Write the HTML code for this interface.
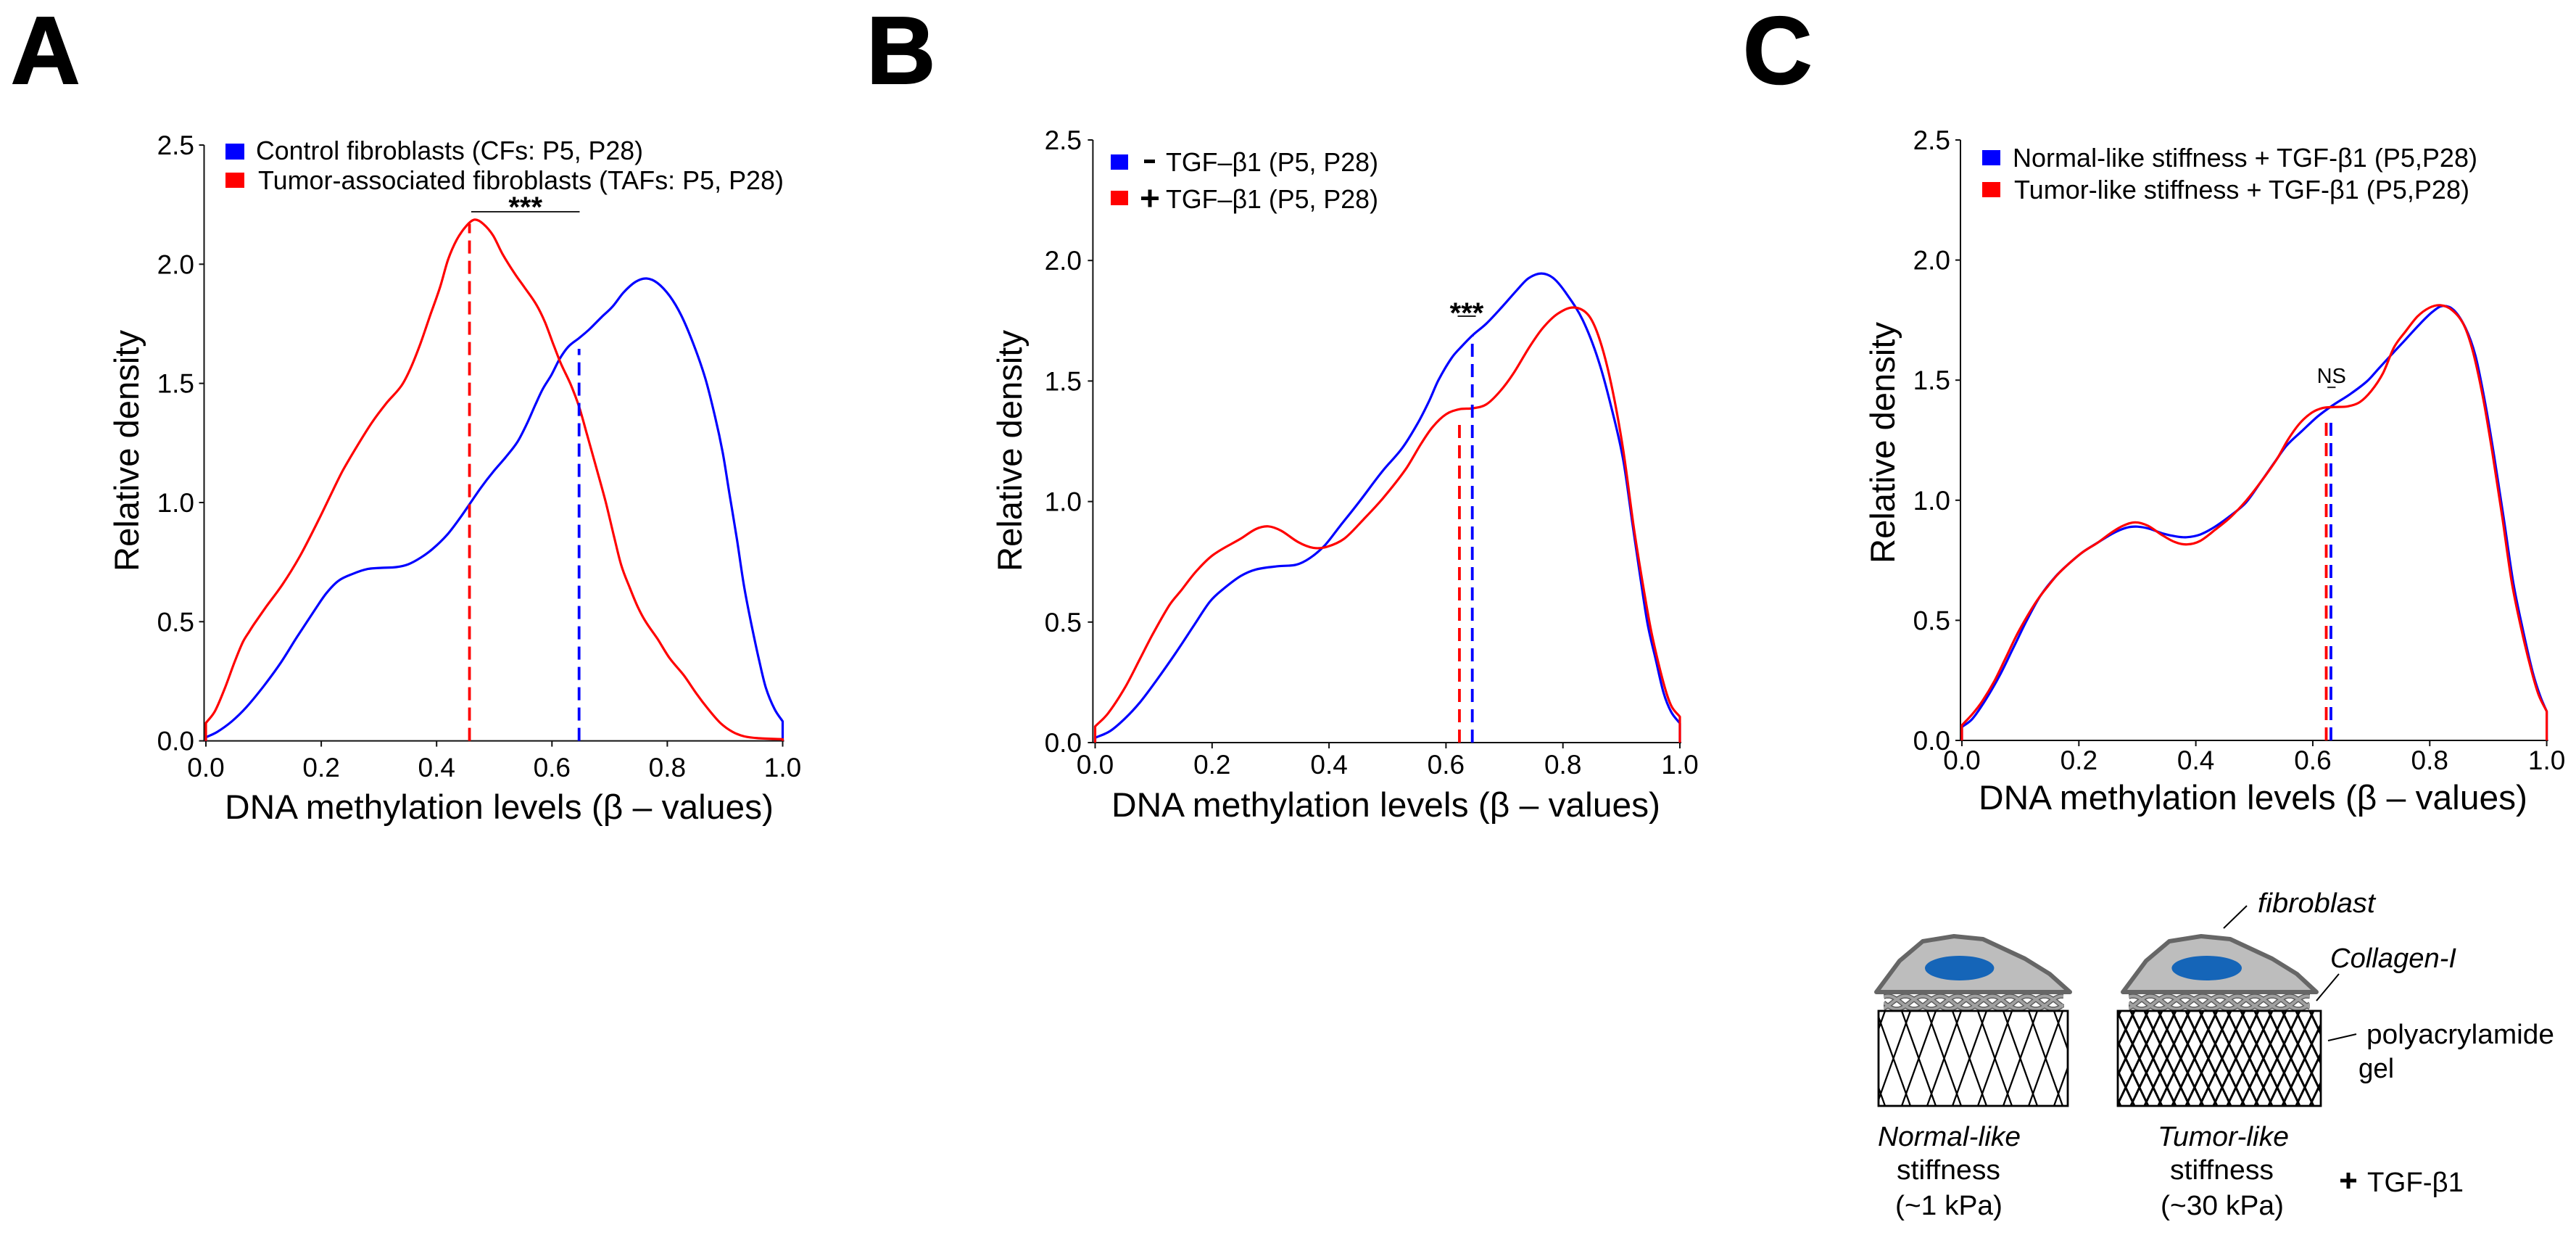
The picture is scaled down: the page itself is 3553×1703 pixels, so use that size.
<!DOCTYPE html>
<html lang="en">
<head>
<meta charset="utf-8">
<title>DNA methylation density plots</title>
<style>
html,body{margin:0;padding:0;background:#fff;}
svg{display:block;}
text{font-family:"Liberation Sans",Arial,sans-serif;fill:#000;}
</style>
</head>
<body>
<svg id="figure" xmlns="http://www.w3.org/2000/svg" width="3553" height="1703" viewBox="0 0 3553 1703">
  <rect x="0" y="0" width="3553" height="1703" fill="#fff"/>

  <text x="15" y="115" font-size="132" font-weight="700" stroke="#000" stroke-width="2">A</text>
  <text x="1195" y="115" font-size="132" font-weight="700" stroke="#000" stroke-width="2">B</text>
  <text x="2404" y="115" font-size="132" font-weight="700" stroke="#000" stroke-width="2">C</text>

  <g id="chart-a"></g>
  <g id="chart-b"></g>
  <g id="chart-c"></g>

  <!-- Legends -->
  <g>
    <rect x="311" y="198" width="26" height="22" fill="#0000ff"/>
    <text x="353" y="220" font-size="36" textLength="534" lengthAdjust="spacingAndGlyphs">Control fibroblasts (CFs: P5, P28)</text>
    <rect x="311" y="238" width="26" height="21" fill="#ff0000"/>
    <text x="356" y="261" font-size="36" textLength="725" lengthAdjust="spacingAndGlyphs">Tumor-associated fibroblasts (TAFs: P5, P28)</text>
  </g>
  <g>
    <rect x="1532" y="213" width="24" height="21" fill="#0000ff"/>
    <rect x="1578" y="220" width="15" height="5" fill="#000"/>
    <text x="1608" y="236" font-size="36" textLength="293" lengthAdjust="spacingAndGlyphs">TGF–β1 (P5, P28)</text>
    <rect x="1532" y="263" width="24" height="20" fill="#ff0000"/>
    <path d="M1574 273.5H1598M1586 261.5V285.5" stroke="#000" stroke-width="5" fill="none"/>
    <text x="1608" y="287" font-size="36" textLength="293" lengthAdjust="spacingAndGlyphs">TGF–β1 (P5, P28)</text>
  </g>
  <g>
    <rect x="2734" y="207" width="25" height="21" fill="#0000ff"/>
    <text x="2776" y="230" font-size="36" textLength="641" lengthAdjust="spacingAndGlyphs">Normal-like stiffness + TGF-β1 (P5,P28)</text>
    <rect x="2734" y="251" width="25" height="21" fill="#ff0000"/>
    <text x="2778" y="274" font-size="36" textLength="628" lengthAdjust="spacingAndGlyphs">Tumor-like stiffness + TGF-β1 (P5,P28)</text>
  </g>

  <!-- Schematic -->
  <defs>
    <clipPath id="clip-gel-soft"><rect x="2591" y="1394" width="261" height="131"/></clipPath>
    <clipPath id="clip-gel-stiff"><rect x="2921" y="1394" width="280" height="131"/></clipPath>
    <clipPath id="clip-col-1"><rect x="2598" y="1371" width="249" height="23"/></clipPath>
    <clipPath id="clip-col-2"><rect x="2936" y="1371" width="250" height="23"/></clipPath>
  </defs>
  <g>
    <g clip-path="url(#clip-col-1)">
      <path id="braid-1a" fill="none" stroke="#585858" stroke-width="6.5"/>
      <path id="braid-1b" fill="none" stroke="#a0a0a0" stroke-width="3.8"/>
    </g>
    <g clip-path="url(#clip-col-2)">
      <path id="braid-2a" fill="none" stroke="#585858" stroke-width="6.5"/>
      <path id="braid-2b" fill="none" stroke="#a0a0a0" stroke-width="3.8"/>
    </g>
    <path d="M2588 1368 L2620 1325 L2652 1298 L2695 1291 L2735 1295 L2793 1322 L2827 1343 L2855 1368 Z" fill="#bdbdbd" stroke="#666" stroke-width="6" stroke-linejoin="round"/>
    <ellipse cx="2702.7" cy="1335" rx="47.7" ry="17" fill="#1565b8"/>
    <path d="M2928 1368 L2960 1325 L2992 1298 L3036 1291 L3076 1295 L3134 1322 L3168 1343 L3195 1368 Z" fill="#bdbdbd" stroke="#666" stroke-width="6" stroke-linejoin="round"/>
    <ellipse cx="3043.7" cy="1335" rx="48.3" ry="17" fill="#1565b8"/>

    <path id="lattice-soft" clip-path="url(#clip-gel-soft)" fill="none" stroke="#000" stroke-width="2.3"/>
    <rect x="2591" y="1394" width="261" height="131" fill="none" stroke="#000" stroke-width="2.8"/>
    <path id="lattice-stiff" clip-path="url(#clip-gel-stiff)" fill="none" stroke="#000" stroke-width="3"/>
    <rect x="2921" y="1394" width="280" height="131" fill="none" stroke="#000" stroke-width="2.8"/>

    <path d="M3099 1249L3067 1280" stroke="#000" stroke-width="2" fill="none"/>
    <path d="M3226 1343L3195 1380" stroke="#000" stroke-width="2" fill="none"/>
    <path d="M3250 1426L3211 1435" stroke="#000" stroke-width="2" fill="none"/>

    <text x="3114" y="1258" font-size="38" font-style="italic" textLength="162" lengthAdjust="spacingAndGlyphs">fibroblast</text>
    <text x="3214" y="1334" font-size="38" font-style="italic" textLength="174" lengthAdjust="spacingAndGlyphs">Collagen-I</text>
    <text x="3264" y="1439" font-size="38" textLength="259" lengthAdjust="spacingAndGlyphs">polyacrylamide</text>
    <text x="3253" y="1486" font-size="38" textLength="49" lengthAdjust="spacingAndGlyphs">gel</text>

    <text x="2590" y="1580" font-size="38" font-style="italic" textLength="197" lengthAdjust="spacingAndGlyphs">Normal-like</text>
    <text x="2616" y="1626" font-size="38" textLength="143" lengthAdjust="spacingAndGlyphs">stiffness</text>
    <text x="2614" y="1675" font-size="38" textLength="148" lengthAdjust="spacingAndGlyphs">(~1 kPa)</text>
    <text x="2976" y="1580" font-size="38" font-style="italic" textLength="181" lengthAdjust="spacingAndGlyphs">Tumor-like</text>
    <text x="2993" y="1626" font-size="38" textLength="143" lengthAdjust="spacingAndGlyphs">stiffness</text>
    <text x="2980" y="1675" font-size="38" textLength="170" lengthAdjust="spacingAndGlyphs">(~30 kPa)</text>
    <path d="M3228 1628H3250M3239 1617V1639" stroke="#000" stroke-width="5" fill="none"/>
    <text x="3265" y="1643" font-size="38" textLength="133" lengthAdjust="spacingAndGlyphs">TGF-β1</text>
  </g>
</svg>

<script>
// ---- Tick values ----
var xTickValues = [0, 0.2, 0.4, 0.6, 0.8, 1.0];
var yTickValues = [0, 0.5, 1.0, 1.5, 2.0, 2.5];

// ---- Panel A ----
var betaBlueA = [0,0.02,0.045,0.07,0.1,0.129,0.158,0.192,0.209,0.23,0.255,0.28,0.305,0.33,0.351,0.372,0.393,0.418,0.439,0.458,0.477,0.498,0.519,0.54,0.556,0.571,0.584,0.599,0.613,0.628,0.647,0.665,0.686,0.705,0.724,0.745,0.764,0.783,0.804,0.824,0.845,0.866,0.883,0.896,0.908,0.921,0.933,0.946,0.959,0.971,0.986,1];
var densityBlueA = [0.015,0.038,0.082,0.141,0.229,0.325,0.436,0.561,0.62,0.672,0.701,0.721,0.726,0.729,0.741,0.768,0.805,0.864,0.93,0.996,1.063,1.129,1.188,1.254,1.328,1.409,1.476,1.535,1.601,1.653,1.69,1.727,1.778,1.822,1.881,1.926,1.94,1.921,1.867,1.786,1.667,1.52,1.358,1.21,1.033,0.841,0.65,0.487,0.34,0.222,0.133,0.082];
var betaRedA = [0,0.016,0.033,0.05,0.064,0.075,0.083,0.104,0.133,0.163,0.196,0.221,0.238,0.263,0.288,0.313,0.339,0.355,0.372,0.389,0.406,0.42,0.435,0.452,0.466,0.481,0.498,0.514,0.535,0.552,0.573,0.588,0.603,0.615,0.632,0.647,0.661,0.678,0.693,0.707,0.72,0.735,0.749,0.762,0.783,0.804,0.829,0.85,0.871,0.892,0.913,0.934,0.959,1];
var densityRedA = [0.075,0.126,0.222,0.333,0.414,0.458,0.488,0.561,0.657,0.775,0.93,1.055,1.137,1.24,1.336,1.417,1.49,1.564,1.667,1.786,1.904,2.02,2.103,2.162,2.187,2.169,2.12,2.044,1.962,1.904,1.83,1.756,1.66,1.586,1.498,1.402,1.284,1.137,1.004,0.864,0.738,0.642,0.561,0.502,0.428,0.347,0.274,0.2,0.133,0.075,0.038,0.0185,0.011,0.007];
var medianBlueA = 0.647;
var medianTopBlueA = 1.645;
var medianRedA = 0.457;
var medianTopRedA = 2.17;
var sigSpanA = [0.46, 0.648];
var sigLevelA = 2.22;

// ---- Panel B ----
var betaBlueB = [0,0.025,0.051,0.077,0.104,0.137,0.17,0.196,0.216,0.249,0.275,0.314,0.344,0.367,0.393,0.419,0.452,0.492,0.525,0.551,0.571,0.587,0.61,0.627,0.646,0.669,0.695,0.722,0.741,0.763,0.784,0.807,0.834,0.86,0.883,0.903,0.919,0.932,0.945,0.959,0.972,0.985,1];
var densityBlueB = [0.02,0.047,0.1,0.168,0.255,0.369,0.49,0.584,0.631,0.691,0.718,0.732,0.738,0.765,0.819,0.899,1.0,1.128,1.221,1.322,1.416,1.503,1.597,1.644,1.691,1.738,1.805,1.879,1.926,1.946,1.926,1.859,1.752,1.591,1.389,1.174,0.906,0.691,0.49,0.342,0.208,0.128,0.08];
var betaRedB = [0,0.022,0.051,0.077,0.097,0.127,0.147,0.173,0.202,0.249,0.275,0.296,0.318,0.347,0.373,0.396,0.426,0.459,0.492,0.531,0.558,0.577,0.6,0.623,0.646,0.669,0.692,0.715,0.742,0.765,0.791,0.819,0.844,0.863,0.883,0.903,0.922,0.939,0.952,0.972,0.985,1];
var densityRedB = [0.067,0.121,0.228,0.349,0.443,0.57,0.631,0.711,0.779,0.846,0.886,0.897,0.879,0.832,0.808,0.812,0.846,0.926,1.013,1.134,1.242,1.309,1.362,1.383,1.387,1.403,1.456,1.53,1.638,1.718,1.779,1.805,1.772,1.671,1.483,1.215,0.879,0.624,0.45,0.248,0.154,0.107];
var medianBlueB = 0.645;
var medianTopBlueB = 1.69;
var medianRedB = 0.623;
var medianTopRedB = 1.342;
var sigSpanB = [0.62, 0.651];
var sigLevelB = 1.769;

// ---- Panel C ----
var betaBlueC = [0,0.018,0.041,0.065,0.088,0.111,0.134,0.16,0.183,0.206,0.232,0.259,0.282,0.3,0.321,0.344,0.367,0.384,0.407,0.433,0.46,0.486,0.512,0.535,0.555,0.581,0.608,0.634,0.664,0.693,0.713,0.736,0.759,0.782,0.805,0.822,0.841,0.861,0.878,0.894,0.91,0.927,0.943,0.96,0.976,0.989,1];
var densityBlueC = [0.056,0.09,0.171,0.272,0.386,0.5,0.601,0.682,0.736,0.783,0.823,0.863,0.886,0.89,0.881,0.861,0.849,0.846,0.857,0.89,0.937,0.991,1.079,1.159,1.227,1.287,1.348,1.395,1.442,1.496,1.549,1.61,1.67,1.731,1.785,1.809,1.792,1.718,1.603,1.415,1.186,0.917,0.655,0.453,0.285,0.184,0.121];
var betaRedC = [0,0.018,0.035,0.055,0.074,0.094,0.111,0.13,0.147,0.163,0.183,0.206,0.232,0.255,0.275,0.296,0.318,0.341,0.364,0.385,0.407,0.433,0.46,0.486,0.512,0.539,0.558,0.578,0.598,0.617,0.637,0.66,0.68,0.7,0.72,0.739,0.759,0.779,0.799,0.818,0.838,0.858,0.874,0.891,0.907,0.924,0.94,0.957,0.973,0.986,1];
var densityRedC = [0.063,0.11,0.164,0.245,0.339,0.44,0.514,0.588,0.642,0.689,0.736,0.783,0.823,0.864,0.893,0.908,0.894,0.857,0.826,0.816,0.83,0.877,0.931,0.998,1.079,1.173,1.254,1.321,1.364,1.384,1.388,1.391,1.408,1.455,1.529,1.637,1.704,1.765,1.801,1.812,1.792,1.731,1.617,1.428,1.2,0.931,0.662,0.46,0.299,0.191,0.121];
var medianBlueC = 0.631;
var medianTopBlueC = 1.35;
var medianRedC = 0.623;
var medianTopRedC = 1.35;
var sigSpanC = [0.625, 0.639];
var sigLevelC = 1.47;

var SVGNS = 'http://www.w3.org/2000/svg';

function make(parent, tag, attrs, txt) {
  var el = document.createElementNS(SVGNS, tag);
  for (var k in attrs) { el.setAttribute(k, attrs[k]); }
  if (txt !== undefined) { el.textContent = txt; }
  parent.appendChild(el);
  return el;
}

function curvePath(xs, ys, sx, sy) {
  var px = xs.map(sx), py = ys.map(sy);
  var d = 'M' + sx(xs[0]).toFixed(1) + ' ' + sy(0).toFixed(1) + 'L' + px[0].toFixed(1) + ' ' + py[0].toFixed(1);
  for (var i = 0; i < px.length - 1; i++) {
    var a = Math.max(i - 1, 0), b = Math.min(i + 2, px.length - 1);
    var h = px[i + 1] - px[i];
    var m0 = (py[i + 1] - py[a]) / (px[i + 1] - px[a]);
    var m1 = (py[b] - py[i]) / (px[b] - px[i]);
    d += 'C' + (px[i] + h / 3).toFixed(1) + ' ' + (py[i] + m0 * h / 3).toFixed(1) + ' ' +
         (px[i + 1] - h / 3).toFixed(1) + ' ' + (py[i + 1] - m1 * h / 3).toFixed(1) + ' ' +
         px[i + 1].toFixed(1) + ' ' + py[i + 1].toFixed(1);
  }
  d += 'L' + sx(xs[xs.length - 1]).toFixed(1) + ' ' + sy(0).toFixed(1);
  return d;
}

function drawPanel(p) {
  var g = document.getElementById(p.id);
  var sx = function (v) { return p.x0 + v * (p.x1 - p.x0); };
  var sy = function (v) { return p.y0 - (v / 2.5) * (p.y0 - p.yTop); };

  var yAxis = make(g, 'line', { x1: p.axisX, x2: p.axisX, y1: sy(2.5), y2: sy(0) + 1, stroke: '#111', 'stroke-width': 2 });
  
  
  var xAxis = make(g, 'line', { x1: p.axisX, x2: sx(1) + 2, y1: sy(0), y2: sy(0), stroke: '#111', 'stroke-width': 2 });
  
  

  xTickValues.forEach(function (v) {
    var t = make(g, 'line', { x1: sx(v), x2: sx(v), y1: sy(0), y2: sy(0) + 8, stroke: '#111', 'stroke-width': 2 });
    
    
    var l = make(g, 'text', { x: sx(v), y: p.xLabelY, 'font-size': 37, 'text-anchor': 'middle' }, v.toFixed(1));
    
    
  });
  yTickValues.forEach(function (v) {
    var t = make(g, 'line', { x1: p.axisX - 7, x2: p.axisX, y1: sy(v), y2: sy(v), stroke: '#111', 'stroke-width': 2 });
    
    
    var l = make(g, 'text', { x: p.yLabelX, y: sy(v) + 13, 'font-size': 37, 'text-anchor': 'end' }, v.toFixed(1));
    
    
  });

  var xTitle = make(g, 'text', { x: p.xTitleX, y: p.xTitleY, 'font-size': 47, textLength: 757, lengthAdjust: 'spacingAndGlyphs' }, 'DNA methylation levels (β – values)');
  
  
  var yTitle = make(g, 'text', { transform: 'translate(' + p.yTitleX + ' ' + p.yTitleBottom + ') rotate(-90)', x: 0, y: 0, 'font-size': 47, textLength: 333, lengthAdjust: 'spacingAndGlyphs' }, 'Relative density');
  
  

  var blue = make(g, 'path', { d: curvePath(p.bx, p.by, sx, sy), fill: 'none', stroke: '#0000ff', 'stroke-width': 3.2, 'stroke-linejoin': 'round' });
  
  
  var red = make(g, 'path', { d: curvePath(p.rx, p.ry, sx, sy), fill: 'none', stroke: '#ff0000', 'stroke-width': 3.2, 'stroke-linejoin': 'round' });
  
  

  var mRed = make(g, 'line', { x1: sx(p.medR), x2: sx(p.medR), y1: sy(0), y2: sy(p.medRTop), stroke: '#ff0000', 'stroke-width': 3.8, 'stroke-dasharray': '18 10' });
  
  
  var mBlue = make(g, 'line', { x1: sx(p.medB), x2: sx(p.medB), y1: sy(0), y2: sy(p.medBTop), stroke: '#0000ff', 'stroke-width': 3.8, 'stroke-dasharray': '18 10' });
  
  

  var bar = make(g, 'line', { x1: sx(p.sigSpan[0]), x2: sx(p.sigSpan[1]), y1: sy(p.sigLevel), y2: sy(p.sigLevel), stroke: '#222', 'stroke-width': 2 });
  
  
  var star = make(g, 'text', { x: sx((p.sigSpan[0] + p.sigSpan[1]) / 2), y: sy(p.sigLevel) + p.sigOffset, 'font-size': p.sigSize, 'font-weight': p.sigWeight, 'text-anchor': 'middle' }, p.sigText);
  
  
}

drawPanel({ id: 'chart-a', x0: 284, x1: 1079.5, y0: 1021.6, yTop: 200, axisX: 281.5, xLabelY: 1071, yLabelX: 268, xTitleX: 310, xTitleY: 1129, yTitleX: 191, yTitleBottom: 788,
  bx: betaBlueA, by: densityBlueA, rx: betaRedA, ry: densityRedA, medB: medianBlueA, medBTop: medianTopBlueA, medR: medianRedA, medRTop: medianTopRedA,
  sigSpan: sigSpanA, sigLevel: sigLevelA, sigText: '***', sigOffset: 7, sigSize: 40, sigWeight: 700 });
drawPanel({ id: 'chart-b', x0: 1510.5, x1: 2317, y0: 1024, yTop: 193, axisX: 1507.4, xLabelY: 1067, yLabelX: 1492, xTitleX: 1533, xTitleY: 1126, yTitleX: 1409, yTitleBottom: 788,
  bx: betaBlueB, by: densityBlueB, rx: betaRedB, ry: densityRedB, medB: medianBlueB, medBTop: medianTopBlueB, medR: medianRedB, medRTop: medianTopRedB,
  sigSpan: sigSpanB, sigLevel: sigLevelB, sigText: '***', sigOffset: 9, sigSize: 40, sigWeight: 700 });
drawPanel({ id: 'chart-c', x0: 2706, x1: 3512.6, y0: 1021, yTop: 193, axisX: 2704, xLabelY: 1061, yLabelX: 2690, xTitleX: 2729, xTitleY: 1116, yTitleX: 2613, yTitleBottom: 777,
  bx: betaBlueC, by: densityBlueC, rx: betaRedC, ry: densityRedC, medB: medianBlueC, medBTop: medianTopBlueC, medR: medianRedC, medRTop: medianTopRedC,
  sigSpan: sigSpanC, sigLevel: sigLevelC, sigText: 'NS', sigOffset: -6, sigSize: 29, sigWeight: 400 });

// ---- Schematic textures ----
function lattice(left, right, top, bottom, period, slope, phase) {
  var d = '', h = bottom - top, shift = h * slope;
  for (var x = left - shift - period + phase; x < right + shift + period; x += period) {
    d += 'M' + x.toFixed(1) + ' ' + top + 'L' + (x + shift).toFixed(1) + ' ' + bottom;
    d += 'M' + (x + shift).toFixed(1) + ' ' + top + 'L' + x.toFixed(1) + ' ' + bottom;
  }
  return d;
}
document.getElementById('lattice-soft').setAttribute('d', lattice(2591, 2852, 1394, 1525, 35, 0.359, 9));
document.getElementById('lattice-stiff').setAttribute('d', lattice(2921, 3201, 1394, 1525, 19, 0.475, 4));

function braid(left, right) {
  var d = '';
  for (var k = 0; k < 3; k++) {
    var ph = k * 2 * Math.PI / 3;
    for (var x = left; x <= right; x += 2) {
      var y = 1382.5 + 9 * Math.sin((x - left) * 2 * Math.PI / 72 + ph);
      d += (x === left ? 'M' : 'L') + x + ' ' + y.toFixed(1);
    }
  }
  return d;
}
document.getElementById('braid-1a').setAttribute('d', braid(2598, 2847));
document.getElementById('braid-1b').setAttribute('d', braid(2598, 2847));
document.getElementById('braid-2a').setAttribute('d', braid(2936, 3186));
document.getElementById('braid-2b').setAttribute('d', braid(2936, 3186));
</script>
</body>
</html>
